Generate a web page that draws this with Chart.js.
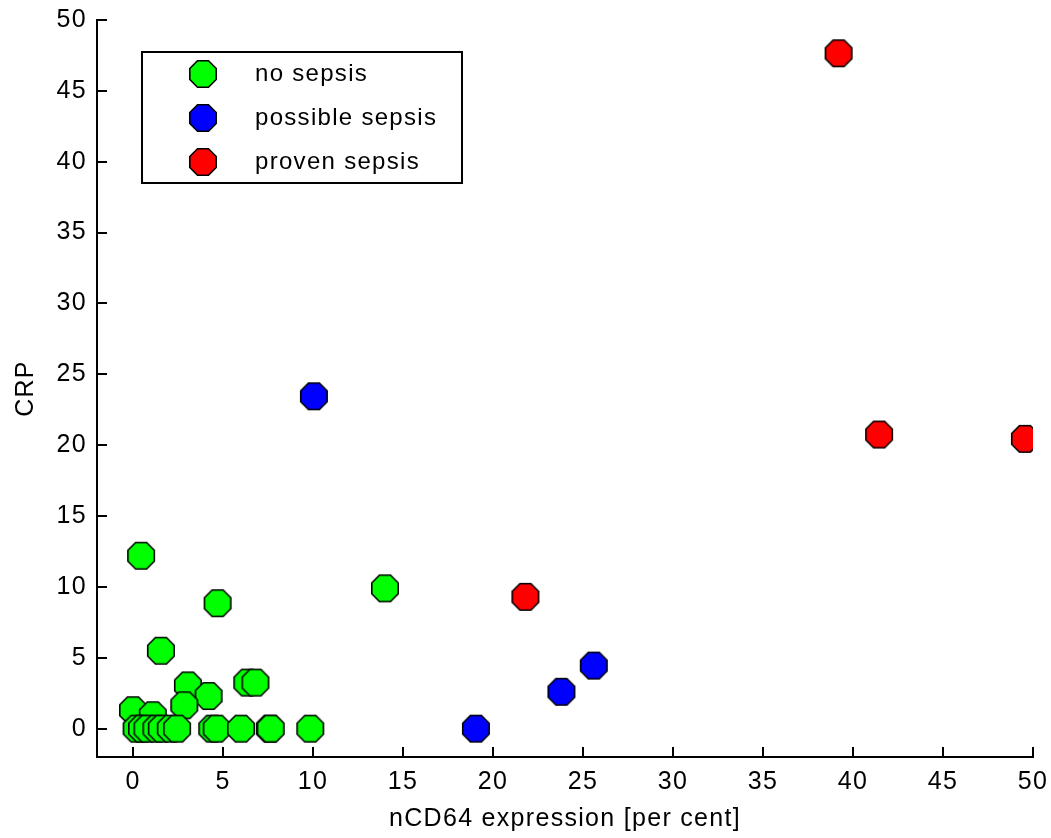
<!DOCTYPE html>
<html>
<head>
  <meta charset="UTF-8" />
  <title>nCD64 vs CRP</title>
  <script src="https://cdn.jsdelivr.net/npm/chart.js"></script>
  <style>
    html, body { margin: 0; padding: 0; background: #fff; }
    #wrap { width: 1051px; height: 838px; }
  </style>
</head>
<body>

<div id="wrap"><canvas id="sepsisChart" width="1051" height="838"></canvas></div>

<script>
  // 1) Data: nCD64 expression (x, per cent) and CRP (y) per group
  const noSepsisX = [0.45, 4.7, 1.55, 14.0, 3.05, 4.2, 2.85, 0.0, 1.1, 6.35, 6.8,
                     0.2, 0.5, 0.8, 1.3, 1.6, 2.1, 2.45, 4.4, 4.65, 6.0, 7.6, 7.65, 9.85];
  const noSepsisY = [12.2, 8.85, 5.5, 9.9, 3.05, 2.3, 1.65, 1.3, 0.95, 3.25, 3.25,
                     0, 0, 0, 0, 0, 0, 0, 0, 0, 0, 0, 0, 0];
  const possibleX = [10.05, 19.05, 23.8, 25.6];
  const possibleY = [23.45, 0, 2.6, 4.45];
  const provenX = [21.8, 39.2, 41.45, 49.55];
  const provenY = [9.3, 47.65, 20.75, 20.45];

  const groupNames = ['no sepsis', 'possible sepsis', 'proven sepsis'];
  const groupColors = ['#00ff00', '#0000ff', '#ff0000'];

  const xTickValues = [0, 5, 10, 15, 20, 25, 30, 35, 40, 45, 50];
  const yTickValues = [0, 5, 10, 15, 20, 25, 30, 35, 40, 45, 50];

  const FONT = "'Liberation Sans', Arial, sans-serif";
  const SPACING = '1.3px';

  // 2) Octagon marker sprites (one per colour)
  function octagon(color) {
    const c = document.createElement('canvas');
    c.width = 32; c.height = 32;
    const g = c.getContext('2d');
    const r = 14.3;
    g.beginPath();
    for (let i = 0; i < 8; i++) {
      const a = Math.PI / 8 + i * Math.PI / 4;
      const px = 16 + r * Math.cos(a), py = 16 + r * Math.sin(a);
      i ? g.lineTo(px, py) : g.moveTo(px, py);
    }
    g.closePath();
    g.fillStyle = color;
    g.fill();
    g.lineWidth = 1.6;
    g.strokeStyle = '#000';
    g.stroke();
    return c;
  }
  const markers = groupColors.map(octagon);

  const toPoints = (xs, ys) => xs.map((x, i) => ({ x: x, y: ys[i] }));

  // 3) Inward tick marks + boxed legend in the upper left
  const axisDecor = {
    id: 'axisDecor',
    beforeUpdate(chart) { chart.ctx.letterSpacing = SPACING; },
    beforeDraw(chart) { chart.ctx.letterSpacing = SPACING; },
    afterDraw(chart) {
      const ctx = chart.ctx;
      const xs = chart.scales.x, ys = chart.scales.y;
      const left = chart.chartArea.left, bottom = chart.chartArea.bottom;
      ctx.save();
      ctx.strokeStyle = '#000';
      ctx.lineWidth = 2;
      ctx.beginPath();
      xTickValues.forEach(v => {
        const px = Math.round(xs.getPixelForValue(v));
        ctx.moveTo(px, bottom); ctx.lineTo(px, bottom - 10);
      });
      yTickValues.forEach(v => {
        const py = Math.round(ys.getPixelForValue(v));
        ctx.moveTo(left, py); ctx.lineTo(left + 10, py);
      });
      ctx.stroke();

      // legend box
      const bx = left + 45, by = ys.getPixelForValue(50) + 32, bw = 320, bh = 131;
      ctx.fillStyle = '#fff';
      ctx.fillRect(bx, by, bw, bh);
      ctx.lineWidth = 2;
      ctx.strokeRect(bx, by, bw, bh);
      ctx.font = '24px ' + FONT;
      ctx.letterSpacing = SPACING;
      ctx.textBaseline = 'middle';
      ctx.fillStyle = '#000';
      groupNames.forEach((name, i) => {
        const cy = by + 22 + i * 44;
        ctx.drawImage(markers[i], bx + 61 - 16, cy - 16);
        ctx.fillText(name, bx + 113, cy);
      });
      ctx.restore();
    }
  };

  // 4) Chart
  const ctx = document.getElementById('sepsisChart').getContext('2d');
  const sepsisChart = new Chart(ctx, {
    type: 'scatter',
    data: {
      datasets: [
        { label: groupNames[0], data: toPoints(noSepsisX, noSepsisY), pointStyle: markers[0] },
        { label: groupNames[1], data: toPoints(possibleX, possibleY), pointStyle: markers[1] },
        { label: groupNames[2], data: toPoints(provenX, provenY), pointStyle: markers[2] }
      ]
    },
    options: {
      responsive: false,
      animation: false,
      layout: { padding: { top: 20, right: 18, left: 7, bottom: 0 } },
      scales: {
        x: {
          type: 'linear',
          min: -2, max: 50,
          afterBuildTicks: s => { s.ticks = xTickValues.map(v => ({ value: v })); },
          afterFit: s => { s.height = 81; s.paddingLeft = 0; s.paddingRight = 0; },
          grid: { display: false, drawTicks: false },
          border: { display: true, color: '#000', width: 2 },
          ticks: { color: '#000', padding: 10, maxRotation: 0, font: { family: FONT, size: 25 } },
          title: { display: true, text: 'nCD64 expression [per cent]', color: '#000', padding: { top: 5 },
                   font: { family: FONT, size: 25 } }
        },
        y: {
          type: 'linear',
          min: -2, max: 50,
          afterBuildTicks: s => { s.ticks = yTickValues.map(v => ({ value: v })); },
          afterFit: s => { s.width = 90; s.paddingTop = 0; s.paddingBottom = 0; },
          grid: { display: false, drawTicks: false },
          border: { display: true, color: '#000', width: 2 },
          ticks: { color: '#000', padding: 10, font: { family: FONT, size: 25 } },
          title: { display: true, text: 'CRP', color: '#000', padding: { bottom: 0 },
                   font: { family: FONT, size: 25 } }
        }
      },
      plugins: {
        legend: { display: false },
        tooltip: { enabled: false }
      }
    },
    plugins: [axisDecor]
  });
</script>

</body>
</html>
